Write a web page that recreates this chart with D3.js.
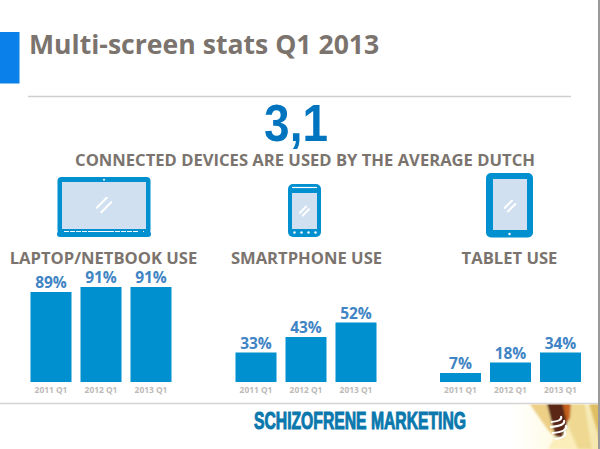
<!DOCTYPE html>
<html>
<head>
<meta charset="utf-8">
<script src="https://cdnjs.cloudflare.com/ajax/libs/d3/7.8.5/d3.min.js"></script>
<style>
html, body { margin: 0; padding: 0; background: #fff; overflow: hidden; }
svg { display: block; }
text { font-family: "Open Sans", sans-serif; font-weight: 700; }
</style>
</head>
<body>
<div class="chart"></div>
<script>
var quarters = ['2011 Q1', '2012 Q1', '2013 Q1'];
var panelNames = ['LAPTOP/NETBOOK USE', 'SMARTPHONE USE', 'TABLET USE'];
var laptopUse = [89, 91, 91];
var smartphoneUse = [33, 43, 52];
var tabletUse = [7, 18, 34];

var width = 600;
var height = 449;
var baseline = 382;
var blue = '#0090d0';
var grey = '#7b746e';

var svg = d3.select('.chart')
    .append('svg')
    .attr('width', width)
    .attr('height', height);

var defs = svg.append('defs');

// the bars in the original are not in proportion, so the scale has several stops
var yscale = d3.scaleLinear()
    .domain([0, 7, 18, 33, 34, 43, 52, 89, 91])
    .range([baseline, 373, 362.5, 352.5, 352.5, 337, 322.5, 292, 287]);

// header
svg.append('rect')
    .attr('x', 0).attr('y', 32)
    .attr('width', 19.5).attr('height', 51.5)
    .attr('fill', '#0a80ea');

svg.append('text')
    .attr('x', 29).attr('y', 54)
    .attr('font-size', 26.6)
    .attr('fill', grey)
    .text('Multi-screen stats Q1 2013');

svg.append('line')
    .attr('x1', 28).attr('x2', 571)
    .attr('y1', 96.5).attr('y2', 96.5)
    .attr('stroke', '#cfcfcf')
    .attr('stroke-width', 1.5);

svg.append('text')
    .attr('transform', 'translate(296,140.5) scale(0.9,1)')
    .attr('text-anchor', 'middle')
    .attr('font-size', 51)
    .style('font-family', '"Liberation Sans", Arial, sans-serif')
    .attr('fill', '#0074bf')
    .text('3,1');

svg.append('text')
    .attr('x', 305).attr('y', 166)
    .attr('text-anchor', 'middle')
    .attr('font-size', 16.6)
    .attr('fill', grey)
    .text('CONNECTED DEVICES ARE USED BY THE AVERAGE DUTCH');

// one small bar chart per device
function drawPanel(values, name, x0, labelX) {
    var xscale = d3.scaleBand()
        .domain(quarters)
        .range([x0, x0 + 141])
        .paddingInner(0.18);

    var g = svg.append('g');

    g.selectAll('rect')
        .data(values)
        .enter()
        .append('rect')
        .attr('x', (d, i) => xscale(quarters[i]))
        .attr('y', d => yscale(d))
        .attr('width', xscale.bandwidth())
        .attr('height', d => baseline - yscale(d))
        .attr('fill', blue);

    g.selectAll('.val')
        .data(values)
        .enter()
        .append('text')
        .attr('class', 'val')
        .attr('x', (d, i) => xscale(quarters[i]) + xscale.bandwidth() / 2)
        .attr('y', d => yscale(d) - 3.7)
        .attr('text-anchor', 'middle')
        .attr('font-size', 15.5)
        .attr('fill', '#3f84c4')
        .text(d => d + '%');

    var axis = g.append('g')
        .attr('transform', 'translate(0,' + baseline + ')')
        .call(d3.axisBottom(xscale).tickSize(0).tickPadding(5));
    axis.select('.domain').remove();
    axis.selectAll('text')
        .attr('font-size', 8.4)
        .attr('fill', '#bdbab7')
        .style('font-family', '"Open Sans", sans-serif');

    svg.append('text')
        .attr('x', labelX).attr('y', 264.3)
        .attr('text-anchor', 'middle')
        .attr('font-size', 16.6)
        .attr('fill', grey)
        .text(name);
}

drawPanel(laptopUse, panelNames[0], 30.5, 103.5);
drawPanel(smartphoneUse, panelNames[1], 235.5, 306.5);
drawPanel(tabletUse, panelNames[2], 440, 509.5);

// device icons
function glare(g, cx, cy, s) {
    [-1, 1].forEach(k => {
        g.append('line')
            .attr('x1', cx + k * s * 0.28 - s * 0.62)
            .attr('y1', cy + k * s * 0.28 + s * 0.62)
            .attr('x2', cx + k * s * 0.28 + s * 0.62)
            .attr('y2', cy + k * s * 0.28 - s * 0.62)
            .attr('stroke', '#fff')
            .attr('stroke-width', 2)
            .attr('stroke-linecap', 'round');
    });
}

var screenFill = '#d0e0f0';

var laptop = svg.append('g');
laptop.append('rect').attr('x', 57.5).attr('y', 177).attr('width', 93).attr('height', 57).attr('rx', 4).attr('fill', blue);
laptop.append('rect').attr('x', 57).attr('y', 231).attr('width', 94).attr('height', 6).attr('rx', 3).attr('fill', blue);
laptop.append('rect').attr('x', 62).attr('y', 182).attr('width', 84).attr('height', 47).attr('fill', screenFill);
laptop.append('circle').attr('cx', 104).attr('cy', 179.7).attr('r', 1).attr('fill', '#fff');
laptop.append('line')
    .attr('x1', 64).attr('x2', 144)
    .attr('y1', 231.5).attr('y2', 231.5)
    .attr('stroke', '#fff').attr('stroke-width', 1)
    .attr('stroke-dasharray', '5 1 5 1 5 1 5 1 26 1 5 1 5 1 5 1 5');
glare(laptop, 104, 205, 8);

var phone = svg.append('g');
phone.append('rect').attr('x', 288).attr('y', 184).attr('width', 33).attr('height', 53).attr('rx', 5).attr('fill', blue);
phone.append('rect').attr('x', 292).attr('y', 193).attr('width', 25).attr('height', 36).attr('fill', screenFill);
phone.append('line').attr('x1', 292).attr('x2', 317).attr('y1', 187.5).attr('y2', 187.5).attr('stroke', '#fff').attr('stroke-width', 1.2);
phone.selectAll('.dot')
    .data([294.5, 301.5, 308.5, 315.5])
    .enter()
    .append('circle')
    .attr('class', 'dot')
    .attr('cx', d => d)
    .attr('cy', 232.5)
    .attr('r', 1.2)
    .attr('fill', '#fff');
glare(phone, 304.5, 211, 5);

var tablet = svg.append('g');
tablet.append('rect').attr('x', 486).attr('y', 173).attr('width', 47).attr('height', 64.5).attr('rx', 5).attr('fill', blue);
tablet.append('rect').attr('x', 493).attr('y', 179).attr('width', 34).attr('height', 51).attr('fill', screenFill);
tablet.append('circle').attr('cx', 509.5).attr('cy', 234).attr('r', 1.2).attr('fill', '#fff');
glare(tablet, 510, 206, 6);

// footer
svg.append('line')
    .attr('x1', 0).attr('x2', 598)
    .attr('y1', 403.5).attr('y2', 403.5)
    .attr('stroke', '#d4d4d4')
    .attr('stroke-width', 1.5);

svg.append('text')
    .attr('x', 254).attr('y', 429)
    .attr('font-size', 23)
    .style('font-family', '"Liberation Sans Narrow", "Liberation Sans", sans-serif')
    .attr('stroke', '#0a78ad')
    .attr('stroke-width', 1)
    .attr('fill', '#0a78ad')
    .attr('textLength', 212)
    .attr('lengthAdjust', 'spacingAndGlyphs')
    .text('SCHIZOFRENE MARKETING');

// corner picture
var fade = defs.append('linearGradient').attr('id', 'fade').attr('x1', 0).attr('x2', 1).attr('y1', 0).attr('y2', 0);
fade.append('stop').attr('offset', 0).attr('stop-color', '#fff');
fade.append('stop').attr('offset', 0.5).attr('stop-color', '#fefbe6');
fade.append('stop').attr('offset', 1).attr('stop-color', '#f6e6ab');

defs.append('clipPath').attr('id', 'cornerClip')
    .append('rect').attr('x', 510).attr('y', 404.5).attr('width', 88).attr('height', 44.5);
defs.append('filter').attr('id', 'soft')
    .attr('filterUnits', 'userSpaceOnUse')
    .attr('x', 500).attr('y', 390).attr('width', 110).attr('height', 70)
    .append('feGaussianBlur').attr('stdDeviation', 1);

var corner = svg.append('g').attr('clip-path', 'url(#cornerClip)');
corner.append('rect').attr('x', 510).attr('y', 404.5).attr('width', 88).attr('height', 44.5).attr('fill', 'url(#fade)');

var soft = corner.append('g').attr('filter', 'url(#soft)');
soft.append('path').attr('d', 'M527,400 L546,400 L555,437 L548,430 Z').attr('fill', '#edcf85');
soft.append('path').attr('d', 'M555,437 L567,424 L578,449 L548,449 Z').attr('fill', '#fbeebb');
soft.append('path').attr('d', 'M571,400 L584,400 L592,449 L578,449 L568,426 Z').attr('fill', '#efd992');
soft.append('path').attr('d', 'M588,400 L600,400 L600,440 Z').attr('fill', '#dfbd63');
soft.append('path').attr('d', 'M562,400 L571,400 L570,418 L566,424 Z').attr('fill', '#c4601c');
soft.append('path').attr('d', 'M546,400 L562,400 L567,424 L562,438 L555,436 Z').attr('fill', '#5a2813');

[[551, 422, 561, 416], [550, 427, 564, 420], [552, 433, 566, 425], [555, 439, 565, 431]].forEach(p => {
    corner.append('path')
        .attr('d', 'M' + p[0] + ',' + p[1] + ' Q' + (p[2] + 2) + ',' + (p[1] - 1) + ' ' + p[2] + ',' + p[3])
        .attr('fill', 'none')
        .attr('stroke', '#fff')
        .attr('stroke-width', 2);
});

// window edge on the right
svg.append('line')
    .attr('x1', 599).attr('x2', 599)
    .attr('y1', 0).attr('y2', 449)
    .attr('stroke', '#777')
    .attr('stroke-width', 1.5);
</script>
</body>
</html>
